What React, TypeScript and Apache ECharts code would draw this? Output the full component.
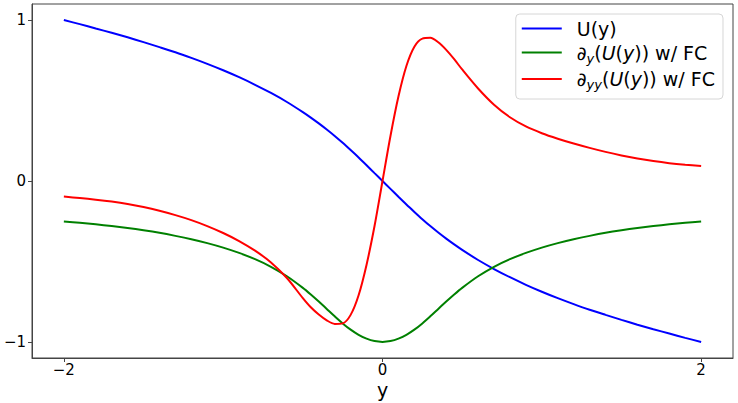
import React, { useEffect, useRef } from "react";
import * as echarts from "echarts";

// x positions (y coordinate of the profile)
const xs = [
  -2.0, -1.9, -1.8, -1.7, -1.6, -1.5, -1.4, -1.3, -1.2, -1.1, -1.0, -0.9, -0.8, -0.7, -0.6,
  -0.5, -0.45, -0.4, -0.35, -0.3, -0.25, -0.2, -0.15, -0.1, -0.05, 0,
  0.05, 0.1, 0.15, 0.2, 0.25, 0.3, 0.35, 0.4, 0.45, 0.5,
  0.6, 0.7, 0.8, 0.9, 1.0, 1.1, 1.2, 1.3, 1.4, 1.5, 1.6, 1.7, 1.8, 1.9, 2.0,
];

// U(y)
const uValues = [
  1.0, 0.975, 0.948, 0.921, 0.893, 0.863, 0.832, 0.8, 0.765, 0.728, 0.688, 0.645, 0.598, 0.547, 0.491,
  0.428, 0.394, 0.358, 0.32, 0.28, 0.237, 0.192, 0.146, 0.098, 0.049, 0,
  -0.049, -0.098, -0.146, -0.192, -0.237, -0.28, -0.32, -0.358, -0.394, -0.428,
  -0.491, -0.547, -0.598, -0.645, -0.688, -0.728, -0.765, -0.8, -0.832, -0.863, -0.893, -0.921, -0.948, -0.975, -1.0,
];

// first derivative w/ FC
const dyValues = [
  -0.252, -0.26, -0.269, -0.28, -0.292, -0.306, -0.322, -0.341, -0.362, -0.386, -0.414, -0.447, -0.486, -0.533, -0.592,
  -0.664, -0.705, -0.749, -0.795, -0.841, -0.885, -0.924, -0.956, -0.98, -0.995, -1.0,
  -0.995, -0.98, -0.956, -0.924, -0.885, -0.841, -0.795, -0.749, -0.705, -0.664,
  -0.592, -0.533, -0.486, -0.447, -0.414, -0.386, -0.362, -0.341, -0.322, -0.306, -0.292, -0.28, -0.269, -0.26, -0.252,
];

// second derivative w/ FC
const dyyValues = [
  -0.097, -0.106, -0.116, -0.128, -0.143, -0.162, -0.185, -0.212, -0.243, -0.28, -0.323, -0.373, -0.433, -0.506, -0.603,
  -0.728, -0.785, -0.83, -0.866, -0.888, -0.885, -0.832, -0.71, -0.52, -0.28, 0,
  0.28, 0.525, 0.715, 0.835, 0.885, 0.89, 0.862, 0.815, 0.757, 0.693,
  0.575, 0.474, 0.396, 0.339, 0.297, 0.263, 0.233, 0.206, 0.181, 0.159, 0.14, 0.124, 0.111, 0.101, 0.093,
];

const seriesNames = ["U(y)", "∂y(U(y)) w/ FC", "∂yy(U(y)) w/ FC"];
const seriesColors = ["#0000ff", "#008000", "#ff0000"];
const xTicks = [-2, 0, 2];
const yTicks = [-1, 0, 1];

const FONT = "DejaVu Sans";

function fmt(v: number) {
  return v < 0 ? "\u2212" + Math.abs(v) : String(v);
}

export default function App() {
  const ref = useRef<HTMLDivElement>(null);
  useEffect(() => {
    if (!ref.current) return;
    const chart = echarts.init(ref.current, undefined, { renderer: "svg" });
    const all = [uValues, dyValues, dyyValues];
    chart.setOption({
      animation: false,
      backgroundColor: "#ffffff",
      grid: {
        left: 32,
        right: 5,
        top: 4,
        bottom: 45,
        outerBoundsMode: "none",
        containLabel: false,
        show: true,
        borderColor: "#444",
        borderWidth: 1,
        backgroundColor: "transparent",
      },
      xAxis: {
        type: "value",
        min: -2.2,
        max: 2.2,
        name: "y",
        nameLocation: "middle",
        nameGap: 22,
        nameMoveOverlap: false,
        nameTextStyle: { fontFamily: FONT, fontSize: 19, color: "#000", lineHeight: 19 },
        axisLine: { show: true, onZero: false, lineStyle: { color: "#444", width: 1 } },
        axisTick: { show: true, customValues: xTicks, length: 4, lineStyle: { color: "#444" } },
        axisLabel: {
          customValues: xTicks,
          formatter: (v: number) => fmt(v),
          fontFamily: FONT,
          fontSize: 15,
          lineHeight: 15,
          color: "#000",
          margin: 4,
        },
        splitLine: { show: false },
      },
      yAxis: {
        type: "value",
        min: -1.1,
        max: 1.1,
        axisLine: { show: true, onZero: false, lineStyle: { color: "#444", width: 1 } },
        axisTick: { show: true, customValues: yTicks, length: 4, lineStyle: { color: "#444" } },
        axisLabel: {
          customValues: yTicks,
          formatter: (v: number) => fmt(v),
          fontFamily: FONT,
          fontSize: 15,
          color: "#000",
          margin: 6,
        },
        splitLine: { show: false },
      },
      legend: {
        orient: "vertical",
        right: 15,
        top: 14,
        icon: "rect",
        itemWidth: 40,
        itemHeight: 2,
        itemGap: 5,
        padding: [5, 8, 8, 6],
        backgroundColor: "rgba(255,255,255,0.8)",
        borderColor: "#d6d6d6",
        borderWidth: 1,
        borderRadius: 4,
        data: seriesNames,
        formatter: (name: string) => {
          if (name === seriesNames[0]) return "{n|U(y)}";
          const sub = name === seriesNames[1] ? "y" : "yy";
          return "{n|∂}{s|" + sub + "}{n|(}{i|U}{n|(}{i|y}{n|)) w/ FC}";
        },
        textStyle: {
          fontFamily: FONT,
          fontSize: 19,
          color: "#000",
          padding: [0, 0, 0, 10],
          rich: {
            n: { fontFamily: FONT, fontSize: 19, color: "#000", lineHeight: 24 },
            i: { fontFamily: FONT, fontSize: 19, fontStyle: "italic", color: "#000", lineHeight: 24 },
            s: {
              fontFamily: FONT,
              fontSize: 13,
              fontStyle: "italic",
              color: "#000",
              lineHeight: 14,
              verticalAlign: "bottom",
            },
          },
        },
      },
      series: seriesNames.map((name, k) => ({
        name,
        type: "line",
        symbol: "none",
        smooth: 0.3,
        color: seriesColors[k],
        lineStyle: { color: seriesColors[k], width: 2 },
        data: xs.map((x, i) => [x, all[k][i]]),
      })),
    });
    return () => chart.dispose();
  }, []);
  return (
    <div
      ref={ref}
      style={{ position: "fixed", left: 0, top: 0, width: 738, height: 403, background: "#fff" }}
    />
  );
}
